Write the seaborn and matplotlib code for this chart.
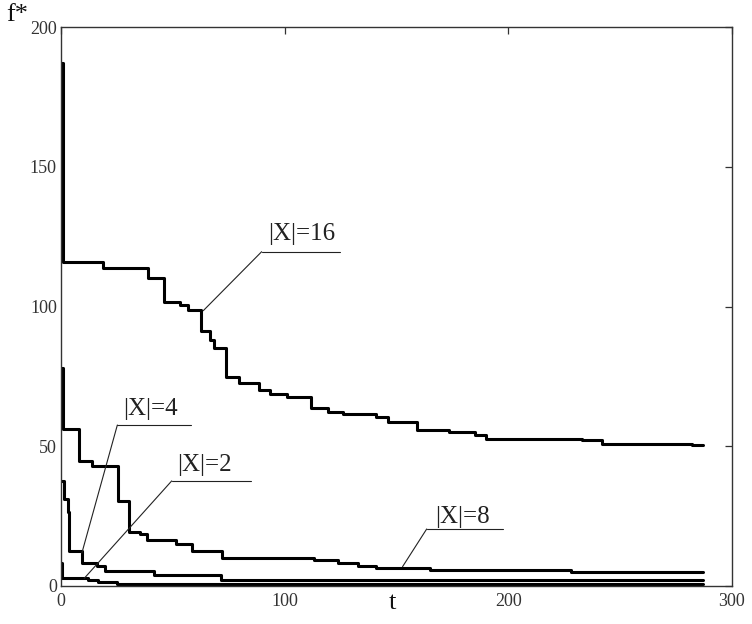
import numpy as np
import pandas as pd
import seaborn as sns
import matplotlib
matplotlib.use("Agg")
import matplotlib.pyplot as plt

# values (step functions, value held until the next t)
t16 = [0, 0.7, 18.6, 39, 46, 53.3, 57, 62.5, 66.5, 68.5, 73.8, 79.5, 88.4, 93.6, 101,
       112, 119.6, 126, 141, 146, 159, 173.6, 185, 190, 233, 242, 282, 287]
f16 = [187, 116, 113.6, 110.2, 101.7, 100.5, 98.9, 91.2, 88, 85, 74.9, 72.5, 70, 68.6, 67.6,
       63.8, 62.3, 61.4, 60.6, 58.7, 55.7, 55.1, 54.1, 52.7, 52.1, 50.8, 50.4, 50.4]

t8 = [0, 0.7, 8, 13.9, 25.5, 30.2, 35.5, 38.5, 51.4, 58.5, 72, 113, 124, 133, 141, 165, 228, 287]
f8 = [78, 56, 44.6, 43, 30.5, 19.4, 18.6, 16.6, 15.2, 12.6, 10.1, 9.3, 8.2, 7.0, 6.4, 5.8, 5.1, 5.1]

t4 = [0, 1.5, 3, 3.5, 9.5, 16, 19.6, 41.5, 71.4, 287]
f4 = [37.5, 31, 26.5, 12.6, 8.4, 7.2, 5.5, 3.8, 2.2, 2.2]

t2 = [0, 0.6, 12, 16.7, 25, 287]
f2 = [8.2, 2.8, 2.2, 1.5, 0.6, 0.6]

series = {"16": (t16, f16), "8": (t8, f8), "4": (t4, f4), "2": (t2, f2)}

x_ticks = [0, 100, 200, 300]
y_ticks = [0, 50, 100, 150, 200]

# label text, text anchor, underline start/end, leader end (layout only)
labels = [
    ("|X|=16", (92.5, 123.8), (89.7, 124.6, 119.6), (63.6, 98.5)),
    ("|X|=4", (27.6, 61.2), (25.2, 58.1, 57.6), (9.3, 11.7)),
    ("|X|=2", (52.0, 41.3), (49.5, 84.9, 37.6), (10.4, 2.75)),
    ("|X|=8", (167.2, 22.6), (163.5, 197.5, 20.4), (152.7, 6.9)),
]

rows = []
for name, (tt, ff) in series.items():
    for a, b in zip(tt, ff):
        rows.append({"t": a, "f": b, "set": name})
df = pd.DataFrame(rows)

sns.set_style("white")
plt.rcParams["font.family"] = ["Liberation Serif", "DejaVu Serif"]

fig = plt.figure(figsize=(7.52, 6.24), dpi=100)
ax = fig.add_axes([0.0811, 0.0609, 0.8923, 0.8958])

sns.lineplot(data=df, x="t", y="f", units="set", estimator=None, sort=True,
             drawstyle="steps-post", color="black", linewidth=2.2, legend=False, ax=ax)

for text, (tx, ty), (u0, u1, uy), (px, py) in labels:
    ax.text(tx, ty, text, fontsize=18, ha="left", va="baseline", color="#222222")
    ax.plot([u0, u1], [uy, uy], color="#222222", linewidth=0.8)
    ax.plot([u0, px], [uy, py], color="#222222", linewidth=0.8)

ax.set_xlim(0, 300)
ax.set_ylim(0, 200)
ax.set_xticks(x_ticks)
ax.set_yticks(y_ticks)
ax.set_xlabel("")
ax.set_ylabel("")
ax.tick_params(direction="in", length=5, width=0.9, color="#333333",
               top=True, right=True, labeltop=False, labelright=False)
ax.tick_params(axis="y", labelsize=13, pad=3, labelcolor="#333333")
ax.tick_params(axis="x", labelsize=13, pad=5, labelcolor="#333333")
for s in ax.spines.values():
    s.set_color("#333333")
    s.set_linewidth(1.0)

fig.text(6 / 752, 1 - 4 / 624, "f*", fontsize=19, ha="left", va="top", color="#111111")
fig.text(392 / 752, 1 - 603 / 624, "t", fontsize=19, ha="center", va="center", color="#111111")

fig.savefig("out.png", dpi=100)
